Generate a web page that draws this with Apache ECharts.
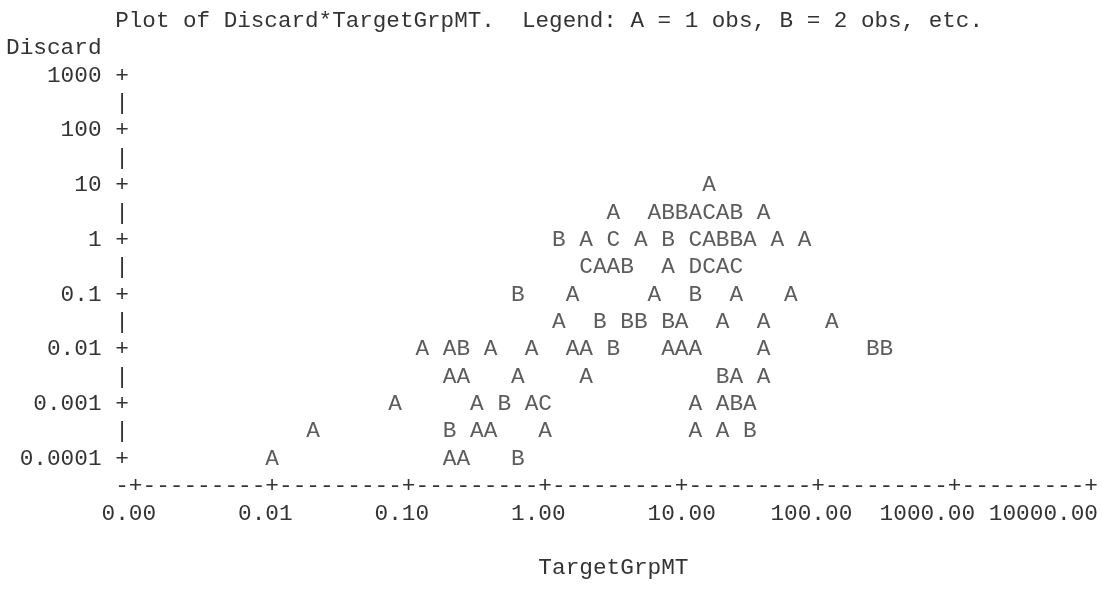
<!DOCTYPE html>
<html>
<head>
<meta charset="utf-8">
<title>Plot of Discard*TargetGrpMT</title>
<script src="https://cdn.jsdelivr.net/npm/echarts@6/dist/echarts.min.js"></script>
<style>
  html, body { margin: 0; padding: 0; background: #fff; }
  #main { width: 1102px; height: 593px; }
</style>
</head>
<body>
<div id="main"></div>
<script>
// log10(TargetGrpMT) of every printed cell, one line per plot row (top to bottom)
let logTarget = [
    1.2,
    0.5, 0.8, 0.9, 1.0, 1.1, 1.2, 1.3, 1.4, 1.6,
    0.1, 0.3, 0.5, 0.7, 0.9, 1.1, 1.2, 1.3, 1.4, 1.5, 1.7, 1.9,
    0.3, 0.4, 0.5, 0.6, 0.9, 1.1, 1.2, 1.3, 1.4,
    -0.2, 0.2, 0.8, 1.1, 1.4, 1.8,
    0.1, 0.4, 0.6, 0.7, 0.9, 1.0, 1.3, 1.6, 2.1,
    -0.9, -0.7, -0.6, -0.4, -0.1, 0.2, 0.3, 0.5, 0.9, 1.0, 1.1, 1.6, 2.4, 2.5,
    -0.7, -0.6, -0.2, 0.3, 1.3, 1.4, 1.6,
    -1.1, -0.5, -0.3, -0.1, 0.0, 1.1, 1.3, 1.4, 1.5,
    -1.7, -0.7, -0.5, -0.4, 0.0, 1.1, 1.3, 1.5,
    -2.0, -0.7, -0.6, -0.2
];
// log10(Discard) of the same cells
let logDiscard = [
    1,
    0.5, 0.5, 0.5, 0.5, 0.5, 0.5, 0.5, 0.5, 0.5,
    0, 0, 0, 0, 0, 0, 0, 0, 0, 0, 0, 0,
    -0.5, -0.5, -0.5, -0.5, -0.5, -0.5, -0.5, -0.5, -0.5,
    -1, -1, -1, -1, -1, -1,
    -1.5, -1.5, -1.5, -1.5, -1.5, -1.5, -1.5, -1.5, -1.5,
    -2, -2, -2, -2, -2, -2, -2, -2, -2, -2, -2, -2, -2, -2,
    -2.5, -2.5, -2.5, -2.5, -2.5, -2.5, -2.5,
    -3, -3, -3, -3, -3, -3, -3, -3, -3,
    -3.5, -3.5, -3.5, -3.5, -3.5, -3.5, -3.5, -3.5,
    -4, -4, -4, -4
];
// number of obs in each cell (A = 1, B = 2, ...)
let obsCount = [
    1,
    1, 1, 2, 2, 1, 3, 1, 2, 1,
    2, 1, 3, 1, 2, 3, 1, 2, 2, 1, 1, 1,
    3, 1, 1, 2, 1, 4, 3, 1, 3,
    2, 1, 1, 2, 1, 1,
    1, 2, 2, 2, 2, 1, 1, 1, 1,
    1, 1, 2, 1, 1, 1, 1, 2, 1, 1, 1, 1, 2, 2,
    1, 1, 1, 1, 2, 1, 1,
    1, 1, 2, 1, 3, 1, 1, 2, 1,
    1, 2, 1, 1, 1, 1, 1, 2,
    1, 1, 1, 2
];
let xTickLabels = ['0.00', '0.01', '0.10', '1.00', '10.00', '100.00', '1000.00', '10000.00'];
let yTickLabels = ['0.0001', '0.001', '0.01', '0.1', '1', '10', '100', '1000'];

// line printer grid
const FONT = 'Liberation Mono';
const CW = 13.65;          // char width
const RH = 27.36;          // line height
const FS = CW / 0.6;
const INK = '#333';
function colX(c) { return 6 + (c + 0.5) * CW; }
function rowY(r) { return 21 + r * RH; }
// how many chars each x label starts left of its tick
const xLabelLead = [2, 2, 2, 2, 2, 3, 5, 7];

function isWhole(v) { return Math.abs(v - Math.round(v)) < 1e-6; }

let textBase = { fontFamily: FONT, fontSize: FS, color: INK };
let titleText = Object.assign({ fontWeight: 'normal', lineHeight: RH }, textBase);

let myChart = echarts.init(document.getElementById('main'), null, { renderer: 'canvas' });
let option = {
    animation: false,
    backgroundColor: '#fff',
    title: [
        {
            text: 'Plot of Discard*TargetGrpMT.  Legend: A = 1 obs, B = 2 obs, etc.',
            left: 6 + 8 * CW,
            top: rowY(0) - RH / 2,
            padding: 0,
            textStyle: Object.assign({}, titleText, { fontSize: 22.6 })
        },
        {
            // vertical axis name, printed flush left
            text: 'Discard',
            left: 6,
            top: rowY(1) - RH / 2,
            padding: 0,
            textStyle: titleText
        }
    ],
    grid: {
        left: colX(8),
        right: 1102 - colX(79),
        top: rowY(2),
        bottom: 593 - rowY(16),
        containLabel: false,
        outerBoundsMode: 'none'
    },
    xAxis: [
        {
            // the "-+---------+" rule
            type: 'value', min: -3.1, max: 4, interval: 0.1,
            axisLine: { show: false }, axisTick: { show: false }, splitLine: { show: false },
            axisLabel: Object.assign({
                interval: 0, margin: RH, verticalAlign: 'middle', align: 'center',
                formatter: function (v) { return isWhole(v) ? '+' : '-'; }
            }, textBase)
        },
        {
            type: 'value', min: -3.1, max: 4, interval: 0.1, position: 'bottom',
            axisLine: { show: false }, axisTick: { show: false }, splitLine: { show: false },
            name: 'TargetGrpMT', nameLocation: 'middle', nameGap: 4 * RH,
            nameTextStyle: Object.assign({ verticalAlign: 'middle', padding: [0, 0, 0, CW] }, textBase),
            axisLabel: Object.assign({
                interval: 0, margin: 2 * RH, verticalAlign: 'middle', align: 'center',
                formatter: function (v) {
                    if (!isWhole(v)) return '';
                    let i = Math.round(v) + 3;
                    let s = xTickLabels[i];
                    let total = 2 * xLabelLead[i] + 1;
                    return s + ' '.repeat(Math.max(0, total - s.length));
                }
            }, textBase)
        }
    ],
    yAxis: {
        type: 'value', min: -4, max: 3, interval: 0.5,
        axisLine: { show: false }, axisTick: { show: false }, splitLine: { show: false },
        axisLabel: Object.assign({
            margin: -CW / 2, align: 'right', verticalAlign: 'middle',
            formatter: function (v) {
                return isWhole(v) ? yTickLabels[Math.round(v) + 4] + ' +' : '|';
            }
        }, textBase)
    },
    series: [
        {
            type: 'scatter',
            xAxisIndex: 0,
            symbolSize: 1,
            silent: true,
            itemStyle: { color: 'rgba(0,0,0,0)' },
            label: Object.assign({
                show: true, position: 'inside',
                formatter: function (p) { return String.fromCharCode(64 + p.value[2]); }
            }, textBase),
            data: logTarget.map(function (x, i) { return [x, logDiscard[i], obsCount[i]]; })
        }
    ]
};
myChart.setOption(option);
</script>
</body>
</html>
